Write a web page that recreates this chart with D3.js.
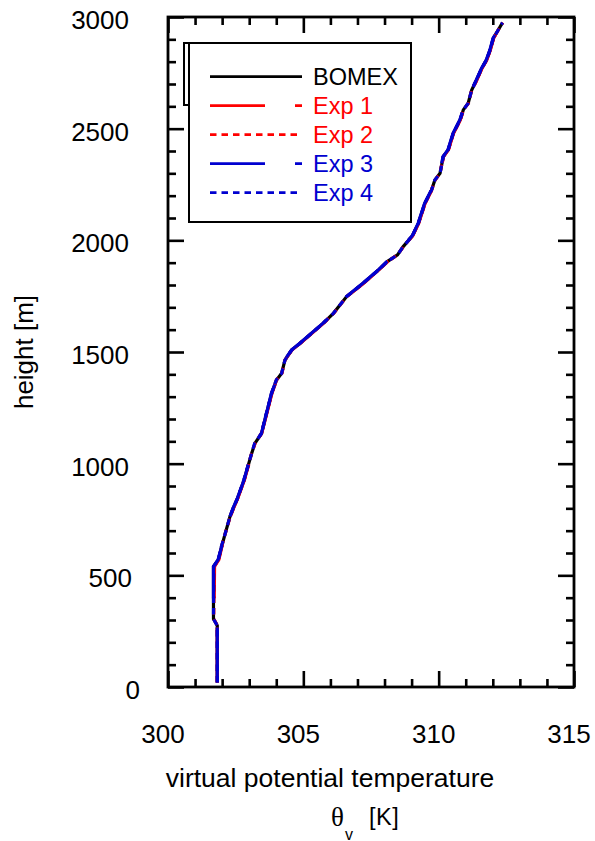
<!DOCTYPE html>
<html>
<head>
<meta charset="utf-8">
<script src="https://cdn.jsdelivr.net/npm/d3@7"></script>
<style>
  body { margin: 0; background: #fff; }
  text { font-family: "Liberation Sans", Arial, sans-serif; }
</style>
</head>
<body>
<div id="chart"></div>
<script>
// heights [m] shared by all profiles
const heights = [20, 275, 305, 540, 570, 628, 681, 763, 800, 845, 927, 1046, 1091, 1136, 1196,
  1315, 1375, 1405, 1464, 1509, 1539, 1629, 1673, 1748, 1808, 1870, 1905, 1935, 1972, 2020,
  2076, 2166, 2226, 2270, 2300, 2375, 2405, 2479, 2539, 2584, 2614, 2673, 2718, 2770, 2808,
  2852, 2905, 2942, 2975];

// virtual potential temperature [K]
const bomex = [301.82, 301.82, 301.68, 301.68, 301.86, 301.98, 302.10, 302.29, 302.41, 302.57,
  302.81, 303.09, 303.21, 303.46, 303.58, 303.83, 304.01, 304.20, 304.32, 304.57, 304.88,
  305.74, 306.11, 306.60, 307.21, 307.80, 308.10, 308.48, 308.69, 309.03, 309.25, 309.49,
  309.74, 309.86, 310.05, 310.17, 310.35, 310.54, 310.79, 310.91, 311.09, 311.22, 311.40,
  311.59, 311.77, 311.90, 312.02, 312.20, 312.36];
const exp1 = [301.82, 301.82, 301.70, 301.72, 301.88, 301.99, 302.11, 302.30, 302.42, 302.58,
  302.82, 303.10, 303.22, 303.46, 303.59, 303.84, 304.02, 304.20, 304.33, 304.57, 304.89,
  305.75, 306.12, 306.61, 307.23, 307.81, 308.12, 308.49, 308.70, 309.04, 309.26, 309.50,
  309.75, 309.87, 310.06, 310.18, 310.36, 310.55, 310.80, 310.92, 311.10, 311.23, 311.41,
  311.60, 311.78, 311.91, 312.03, 312.21, 312.37];
const exp2 = [301.82, 301.82, 301.69, 301.71, 301.87, 301.98, 302.10, 302.30, 302.41, 302.57,
  302.82, 303.09, 303.22, 303.45, 303.58, 303.83, 304.01, 304.21, 304.32, 304.58, 304.88,
  305.74, 306.12, 306.60, 307.22, 307.80, 308.11, 308.48, 308.70, 309.03, 309.25, 309.50,
  309.74, 309.87, 310.05, 310.17, 310.36, 310.54, 310.80, 310.91, 311.10, 311.22, 311.41,
  311.59, 311.78, 311.90, 312.03, 312.20, 312.37];
const exp3 = [301.82, 301.82, 301.68, 301.68, 301.85, 301.98, 302.10, 302.29, 302.40, 302.56,
  302.81, 303.08, 303.21, 303.45, 303.58, 303.82, 304.01, 304.19, 304.31, 304.56, 304.87,
  305.73, 306.10, 306.59, 307.20, 307.79, 308.09, 308.47, 308.68, 309.02, 309.24, 309.48,
  309.73, 309.85, 310.04, 310.16, 310.34, 310.53, 310.78, 310.90, 311.08, 311.21, 311.39,
  311.58, 311.76, 311.89, 312.01, 312.19, 312.35];
const exp4 = [301.82, 301.82, 301.68, 301.69, 301.86, 301.97, 302.10, 302.29, 302.41, 302.57,
  302.80, 303.09, 303.20, 303.46, 303.57, 303.83, 304.00, 304.20, 304.32, 304.57, 304.88,
  305.74, 306.11, 306.60, 307.21, 307.80, 308.10, 308.48, 308.69, 309.03, 309.25, 309.49,
  309.74, 309.86, 310.05, 310.17, 310.35, 310.54, 310.79, 310.91, 311.09, 311.22, 311.40,
  311.59, 311.77, 311.90, 312.02, 312.20, 312.36];

const seriesNames = ["BOMEX", "Exp 1", "Exp 2", "Exp 3", "Exp 4"];
const seriesValues = [bomex, exp1, exp2, exp3, exp4];
const seriesColors = ["#000000", "#ff0000", "#ff0000", "#0000d0", "#0000d0"];
const seriesDash = [null, "55,30", "6.5,5", "55,30", "6.5,5"];

const xMajor = [300, 305, 310, 315];
const xMinor = d3.range(300, 316, 1);
const yMajor = [0, 500, 1000, 1500, 2000, 2500, 3000];
const yMinor = d3.range(0, 3001, 100);
// small horizontal nudges of the y tick labels as seen in the picture
const yLabelShift = [11, 3, 0, 0, 0, 0, 0];

const W = 595, H = 841;
const plot = {left: 168, right: 574, top: 17, bottom: 687};

const svg = d3.select("#chart").append("svg")
  .attr("width", W).attr("height", H);

const x = d3.scaleLinear().domain([300, 315]).range([plot.left, plot.right]);
const y = d3.scaleLinear().domain([0, 3000]).range([plot.bottom, plot.top]);

// frame ticks (all pointing inward)
function tickAxis(axisFn, scale, values, len, transform) {
  const g = svg.append("g")
    .attr("transform", transform)
    .call(axisFn(scale).tickValues(values).tickSize(-len).tickFormat(""));
  g.select(".domain").remove();
  g.selectAll(".tick line").attr("stroke", "#000").attr("stroke-width", 2.6);
  return g;
}
const xMinorOnly = xMinor.filter(v => !xMajor.includes(v));
const yMinorOnly = yMinor.filter(v => !yMajor.includes(v));
tickAxis(d3.axisBottom, x, xMinorOnly, 8, `translate(0,${plot.bottom})`);
tickAxis(d3.axisBottom, x, xMajor, 16, `translate(0,${plot.bottom})`);
tickAxis(d3.axisTop, x, xMinorOnly, 8, `translate(0,${plot.top})`);
tickAxis(d3.axisTop, x, xMajor, 16, `translate(0,${plot.top})`);
tickAxis(d3.axisLeft, y, yMinorOnly, 8, `translate(${plot.left},0)`);
tickAxis(d3.axisLeft, y, yMajor, 16, `translate(${plot.left},0)`);
tickAxis(d3.axisRight, y, yMinorOnly, 8, `translate(${plot.right},0)`);
tickAxis(d3.axisRight, y, yMajor, 16, `translate(${plot.right},0)`);

svg.append("rect")
  .attr("x", plot.left).attr("y", plot.top)
  .attr("width", plot.right - plot.left).attr("height", plot.bottom - plot.top)
  .attr("fill", "none").attr("stroke", "#000").attr("stroke-width", 2.8);

// tick labels
svg.selectAll(".xlab").data(xMajor).enter().append("text")
  .attr("x", d => x(d) - 5).attr("y", 743)
  .attr("text-anchor", "middle").attr("font-size", 26)
  .text(d => d);
svg.selectAll(".ylab").data(yMajor).enter().append("text")
  .attr("x", (d, i) => 129 + yLabelShift[i]).attr("y", d => y(d) + 12)
  .attr("text-anchor", "end").attr("font-size", 26)
  .text(d => d);

// axis titles
svg.append("text")
  .attr("transform", `translate(32.5,${(plot.top + plot.bottom) / 2}) rotate(-90)`)
  .attr("text-anchor", "middle").attr("font-size", 26)
  .text("height [m]");
svg.append("text")
  .attr("x", 330).attr("y", 787)
  .attr("text-anchor", "middle").attr("font-size", 26.5)
  .text("virtual potential temperature");
svg.append("text")
  .attr("x", 331).attr("y", 826)
  .attr("font-size", 27).style("font-family", "'Liberation Serif', 'DejaVu Serif', serif")
  .text("θ");
svg.append("text")
  .attr("x", 345).attr("y", 839.5)
  .attr("font-size", 16)
  .text("v");
svg.append("text")
  .attr("x", 369).attr("y", 825)
  .attr("font-size", 23.5).attr("letter-spacing", 0.5)
  .text("[K]");

// profiles
const line = d3.line()
  .x(d => x(d[0]))
  .y(d => y(d[1]));

seriesValues.forEach((vals, i) => {
  svg.append("path")
    .datum(vals.map((v, j) => [v, heights[j]]))
    .attr("fill", "none")
    .attr("stroke", seriesColors[i])
    .attr("stroke-width", 3.2)
    .attr("stroke-dasharray", seriesDash[i])
    .attr("d", line);
});

// legend
svg.append("rect")
  .attr("x", 184).attr("y", 43).attr("width", 227).attr("height", 62)
  .attr("fill", "#fff").attr("stroke", "#000").attr("stroke-width", 2);
svg.append("rect")
  .attr("x", 189).attr("y", 43).attr("width", 222).attr("height", 179)
  .attr("fill", "#fff").attr("stroke", "#000").attr("stroke-width", 2);

const legend = svg.append("g");
seriesNames.forEach((name, i) => {
  const ly = 76.7 + i * 29;
  legend.append("line")
    .attr("x1", 210).attr("x2", 302).attr("y1", ly).attr("y2", ly)
    .attr("stroke", seriesColors[i]).attr("stroke-width", 2.8)
    .attr("stroke-dasharray", seriesDash[i]);
  legend.append("text")
    .attr("x", 313).attr("y", ly + 8.5)
    .attr("font-size", 23.5).attr("fill", seriesColors[i])
    .text(name);
});
</script>
</body>
</html>
